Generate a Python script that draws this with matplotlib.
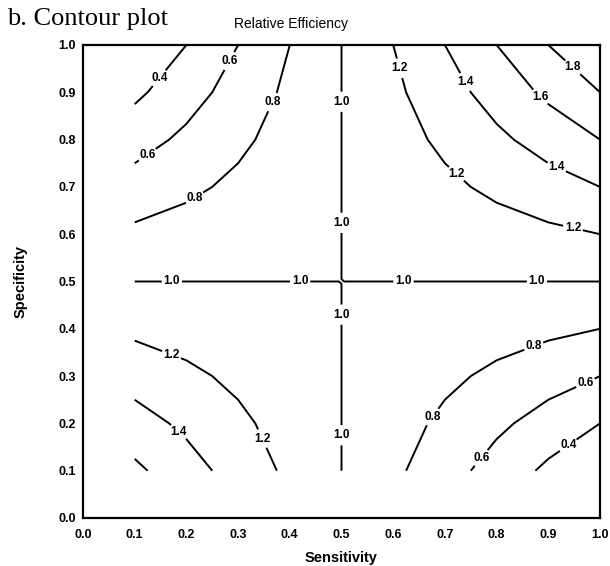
import matplotlib
matplotlib.use("Agg")
import matplotlib.pyplot as plt
import numpy as np

plt.rcParams['font.family'] = ['Liberation Sans', 'DejaVu Sans']

# sensitivity / specificity grid; 0.5 itself is split into 0.495 / 0.505 so
# the 1.0 saddle falls inside a cell and comes out as a clean cross
sens = [0.1, 0.2, 0.3, 0.4, 0.495, 0.505, 0.6, 0.7, 0.8, 0.9, 1.0]
spec = [0.1, 0.2, 0.3, 0.4, 0.495, 0.505, 0.6, 0.7, 0.8, 0.9, 1.0]

# relative efficiency, one row per specificity value
rel_eff = [
    [1.64, 1.48, 1.32, 1.16, 1.008, 0.992, 0.84, 0.68, 0.52, 0.36, 0.20],   # sp 0.1
    [1.48, 1.36, 1.24, 1.12, 1.006, 0.994, 0.88, 0.76, 0.64, 0.52, 0.40],   # sp 0.2
    [1.32, 1.24, 1.16, 1.08, 1.004, 0.996, 0.92, 0.84, 0.76, 0.68, 0.60],   # sp 0.3
    [1.16, 1.12, 1.08, 1.04, 1.002, 0.998, 0.96, 0.92, 0.88, 0.84, 0.80],   # sp 0.4
    [1.008, 1.006, 1.004, 1.002, 1.0001, 0.9999, 0.998, 0.996, 0.994, 0.992, 0.990],  # sp 0.495
    [0.992, 0.994, 0.996, 0.998, 0.9999, 1.0001, 1.002, 1.004, 1.006, 1.008, 1.010],  # sp 0.505
    [0.84, 0.88, 0.92, 0.96, 0.998, 1.002, 1.04, 1.08, 1.12, 1.16, 1.20],   # sp 0.6
    [0.68, 0.76, 0.84, 0.92, 0.996, 1.004, 1.08, 1.16, 1.24, 1.32, 1.40],   # sp 0.7
    [0.52, 0.64, 0.76, 0.88, 0.994, 1.006, 1.12, 1.24, 1.36, 1.48, 1.60],   # sp 0.8
    [0.36, 0.52, 0.68, 0.84, 0.992, 1.008, 1.16, 1.32, 1.48, 1.64, 1.80],   # sp 0.9
    [0.20, 0.40, 0.60, 0.80, 0.990, 1.010, 1.20, 1.40, 1.60, 1.80, 2.00],   # sp 1.0
]

levels = [0.4, 0.6, 0.8, 1.0, 1.2, 1.4, 1.6, 1.8]
ticks = [0.0, 0.1, 0.2, 0.3, 0.4, 0.5, 0.6, 0.7, 0.8, 0.9, 1.0]

# where the contour labels sit
label_pos = [
    (0.145, 0.932), (0.936, 0.158),
    (0.28, 0.968), (0.123, 0.77), (0.768, 0.129), (0.971, 0.288),
    (0.217, 0.675), (0.371, 0.877), (0.668, 0.22), (0.871, 0.366),
    (0.172, 0.5), (0.42, 0.5), (0.62, 0.5), (0.878, 0.5),
    (0.5, 0.88), (0.5, 0.624), (0.5, 0.43), (0.5, 0.175),
    (0.61, 0.95), (0.72, 0.725), (0.946, 0.605), (0.172, 0.347), (0.349, 0.169),
    (0.736, 0.92), (0.917, 0.744), (0.188, 0.186),
    (0.884, 0.89),
    (0.946, 0.951),
]

fig = plt.figure(figsize=(6.1, 5.66), dpi=100)
ax = fig.add_axes([83/610, 48/566, 517/610, 473/566])

X, Y = np.meshgrid(sens, spec)
Z = np.array(rel_eff)
cs = ax.contour(X, Y, Z, levels=levels, colors='black', linewidths=1.4)
ax.clabel(cs, fmt='%.1f', fontsize=8.5, inline=True, inline_spacing=3,
          manual=label_pos)
for t in cs.labelTexts:
    t.set_fontweight('bold')
    t.set_rotation(0)

ax.set_xlim(0, 1)
ax.set_ylim(0, 1)
ax.set_xticks(ticks)
ax.set_yticks(ticks)
ax.set_xticklabels([f"{v:.1f}" for v in ticks], fontsize=9, fontweight='bold')
ax.set_yticklabels([f"{v:.1f}" for v in ticks], fontsize=9, fontweight='bold')
ax.tick_params(axis='x', length=0, pad=8)
ax.tick_params(axis='y', length=0, pad=5)
for s in ax.spines.values():
    s.set_linewidth(1.6)

ax.set_xlabel("Sensitivity", fontsize=10.5, fontweight='bold', labelpad=7)
ax.set_ylabel("Specificity", fontsize=10.5, fontweight='bold', labelpad=22)

fig.text(291/610, 1 - 24/566, "Relative Efficiency", ha='center', va='center',
         fontsize=10)
fig.text(7/610, 1 - 25/566, "b. Contour plot", ha='left', va='baseline',
         fontsize=19, family='Liberation Serif')

fig.savefig("out.png", dpi=100)
